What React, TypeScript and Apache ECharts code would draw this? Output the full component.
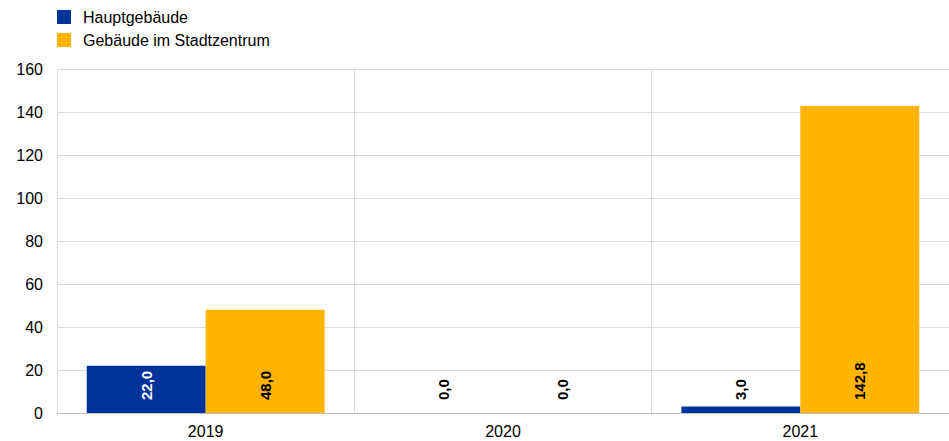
import React, { useEffect, useRef } from "react";
import * as echarts from "echarts";

const categories = ["2019", "2020", "2021"];
const hauptgebaeude = [22.0, 0.0, 3.0];
const stadtzentrum = [48.0, 0.0, 142.8];
const seriesNames = ["Hauptgebäude", "Gebäude im Stadtzentrum"];

const fmt = (v: number) => v.toFixed(1).replace(".", ",");

export default function App() {
  const ref = useRef<HTMLDivElement>(null);
  useEffect(() => {
    const chart = echarts.init(ref.current!, null, { renderer: "svg" });
    const font = "Arial, 'Liberation Sans', sans-serif";
    const labelBase = {
      show: true,
      position: "insideBottom",
      rotate: 90,
      align: "left",
      verticalAlign: "middle",
      distance: 13,
      fontFamily: font,
      fontSize: 15,
      fontWeight: "bold",
      formatter: (p: any) => fmt(p.value),
    };
    chart.setOption({
      animation: false,
      textStyle: { fontFamily: font },
      legend: {
        left: 57,
        top: 9,
        padding: 0,
        orient: "vertical",
        itemWidth: 14,
        itemHeight: 14,
        itemGap: 7,
        icon: "rect",
        textStyle: { fontFamily: font, fontSize: 16, color: "#000", padding: [0, 0, 0, 7] },
        data: seriesNames,
      },
      grid: { left: 57, right: 0, top: 69, bottom: 28 },
      xAxis: {
        type: "category",
        data: categories,
        axisLine: { lineStyle: { color: "#bfbfbf" } },
        axisTick: { show: false },
        axisLabel: { color: "#000", fontSize: 16, fontFamily: font, margin: 10 },
        splitLine: { show: true, lineStyle: { color: "#d9d9d9" } },
      },
      yAxis: {
        type: "value",
        min: 0,
        max: 160,
        interval: 20,
        axisLine: { show: false },
        axisTick: { show: false },
        axisLabel: { color: "#000", fontSize: 16, fontFamily: font, margin: 14 },
        splitLine: { lineStyle: { color: "#d9d9d9" } },
      },
      series: [
        {
          name: seriesNames[0],
          type: "bar",
          barCategoryGap: "20%",
          barGap: "0%",
          itemStyle: { color: "#003299" },
          data: hauptgebaeude.map((v) => ({
            value: v,
            label: { ...labelBase, color: v >= 15 ? "#fff" : "#000" },
          })),
        },
        {
          name: seriesNames[1],
          type: "bar",
          barCategoryGap: "20%",
          barGap: "0%",
          itemStyle: { color: "#ffb400" },
          label: { ...labelBase, color: "#000" },
          data: stadtzentrum,
        },
      ],
    });
    return () => chart.dispose();
  }, []);
  return <div ref={ref} style={{ width: 949, height: 441, position: "absolute", left: 0, top: 0 }} />;
}
